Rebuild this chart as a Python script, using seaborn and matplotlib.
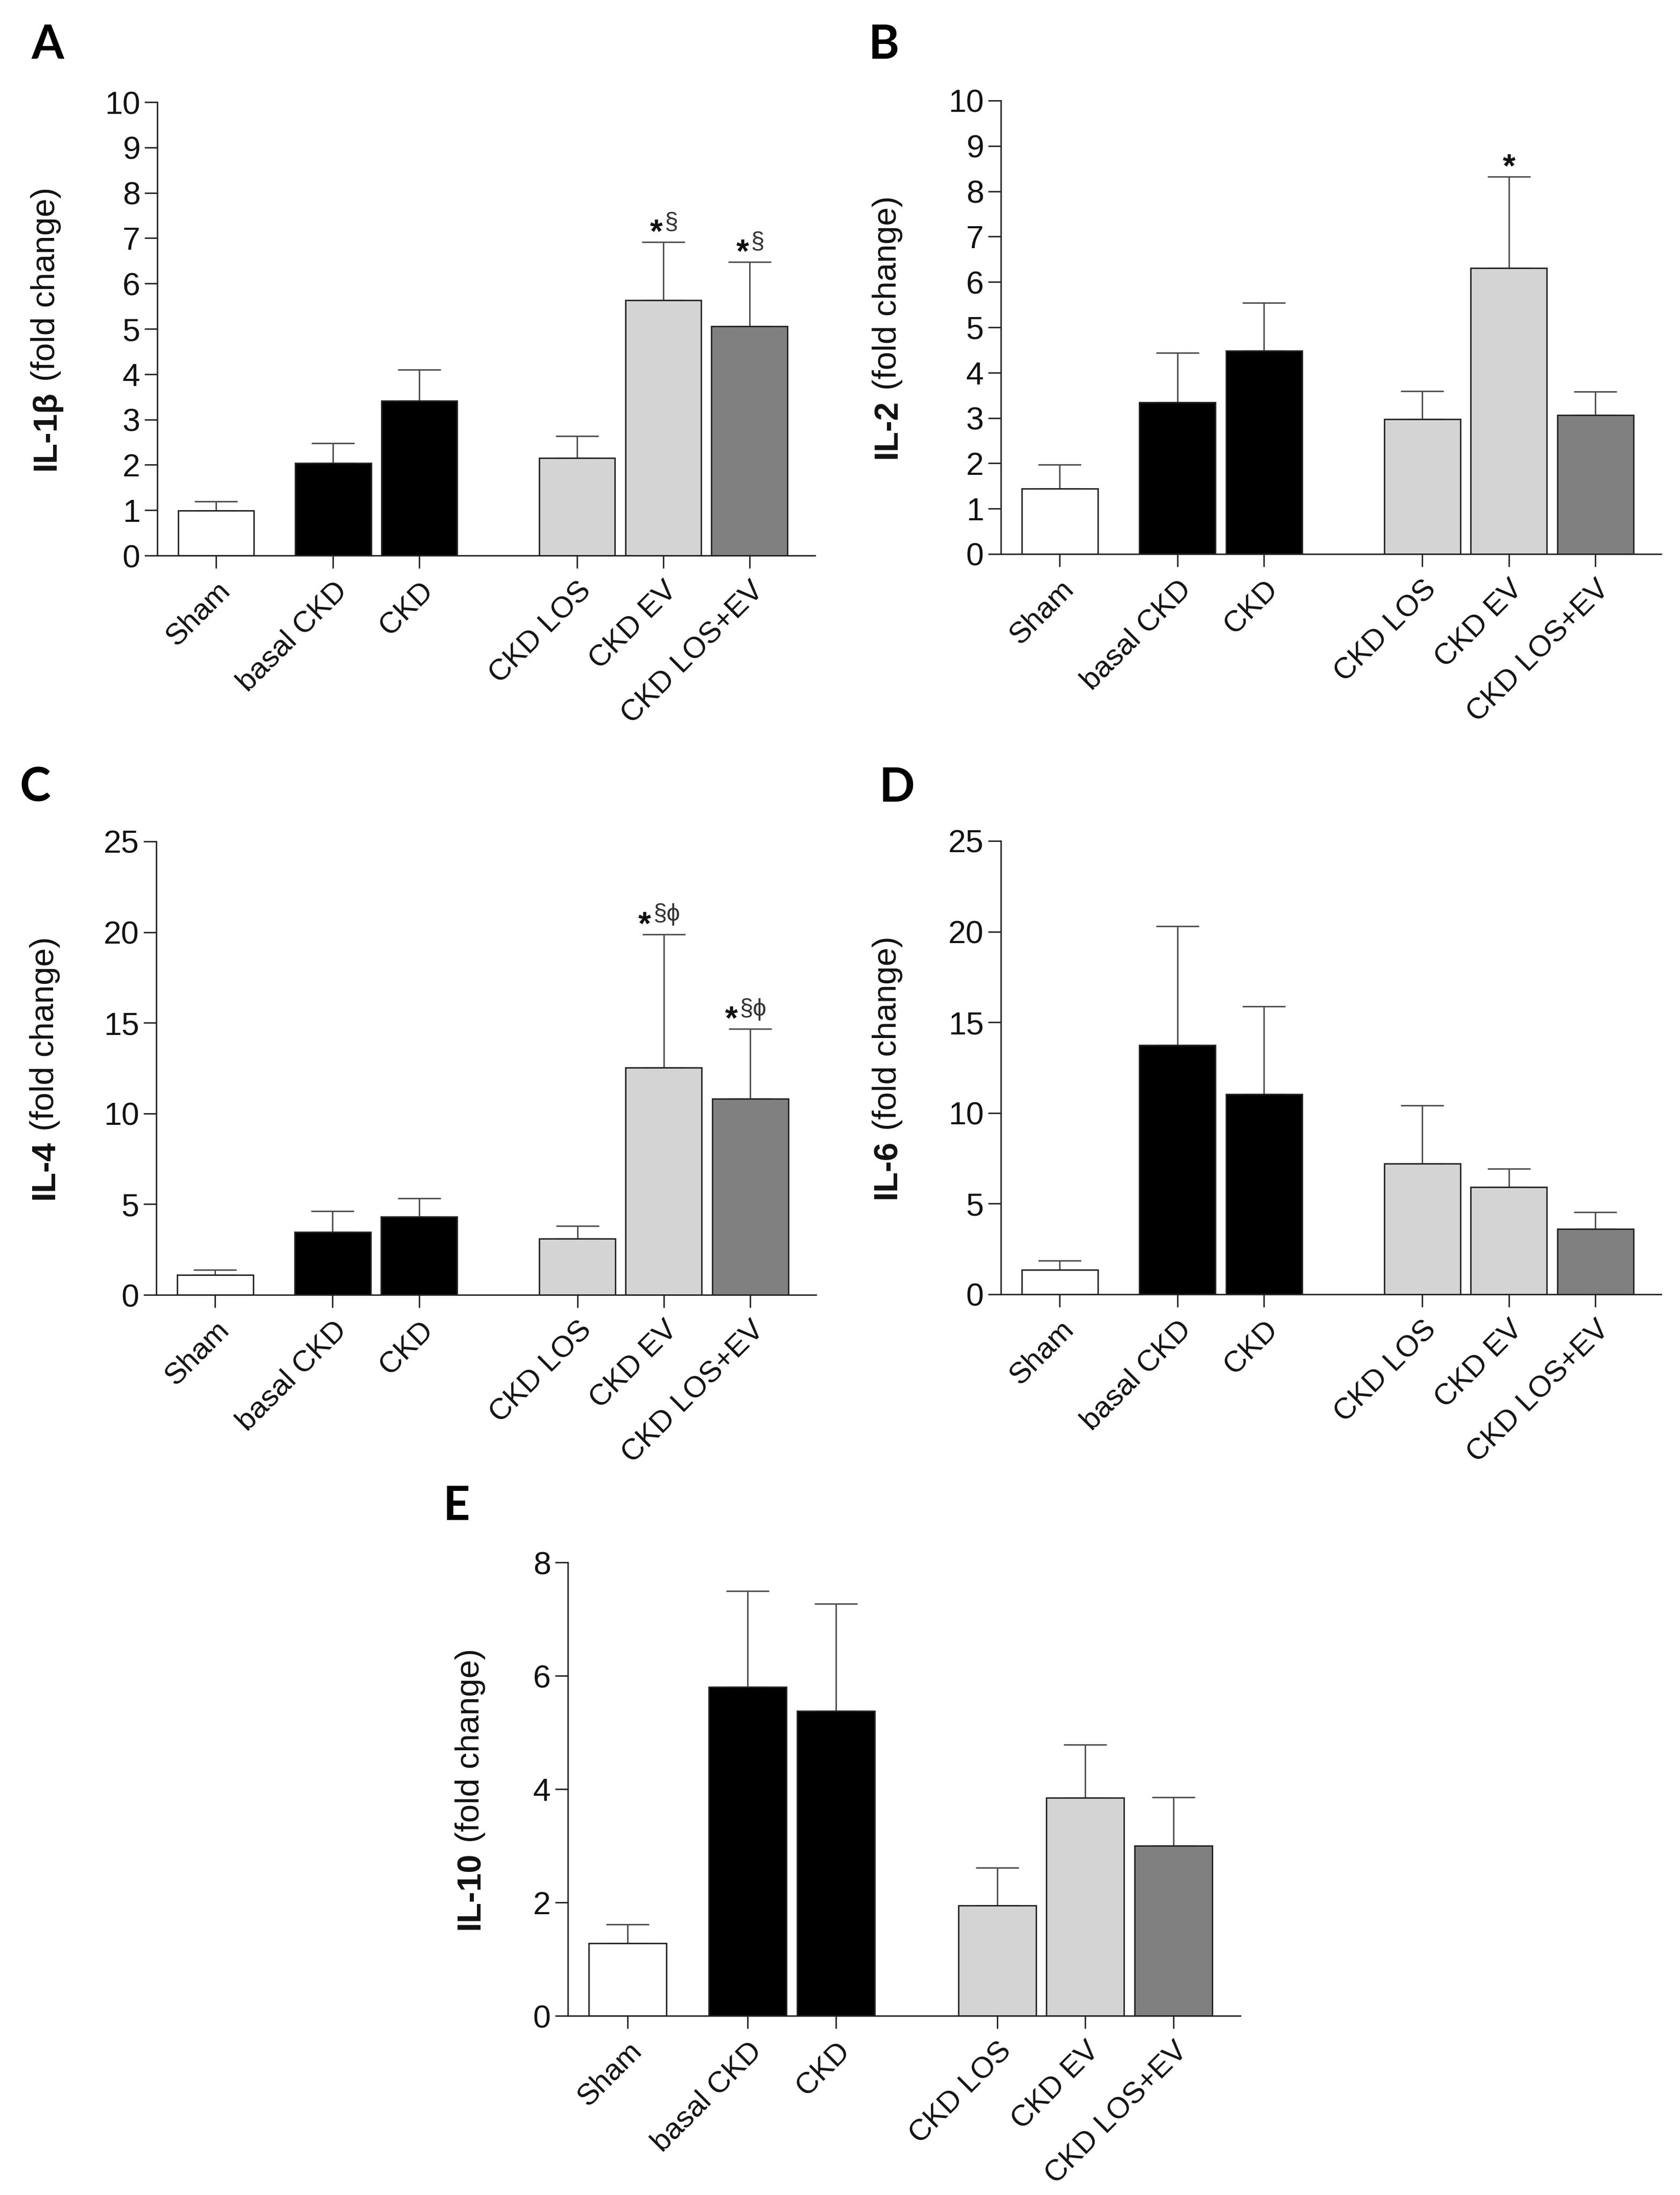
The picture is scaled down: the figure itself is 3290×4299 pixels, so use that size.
import matplotlib
matplotlib.use("Agg")
import matplotlib.pyplot as plt
import seaborn as sns
import numpy as np
import pandas as pd

# ---------------- data ----------------
categories = ["Sham", "basal CKD", "CKD", "CKD LOS", "CKD EV", "CKD LOS+EV"]
bar_colors = ["#ffffff", "#000000", "#000000", "#d4d4d4", "#d4d4d4", "#808080"]

il1b_mean = [0.99, 2.04, 3.41, 2.15, 5.63, 5.06]
il1b_top = [1.19, 2.48, 4.10, 2.64, 6.91, 6.48]

il2_mean = [1.44, 3.34, 4.48, 2.97, 6.31, 3.06]
il2_top = [1.97, 4.44, 5.54, 3.59, 8.32, 3.58]

il4_mean = [1.09, 3.46, 4.31, 3.09, 12.53, 10.81]
il4_top = [1.38, 4.63, 5.33, 3.79, 19.88, 14.66]

il6_mean = [1.36, 13.74, 11.05, 7.22, 5.92, 3.60]
il6_top = [1.85, 20.31, 15.88, 10.43, 6.93, 4.54]

il10_mean = [1.28, 5.80, 5.38, 1.95, 3.85, 3.00]
il10_top = [1.61, 7.50, 7.27, 2.61, 4.78, 3.86]

il1b_marks = ["", "", "", "", "*§", "*§"]
il2_marks = ["", "", "", "", "*", ""]
il4_marks = ["", "", "", "", "*§ϕ", "*§ϕ"]
il6_marks = ["", "", "", "", "", ""]
il10_marks = ["", "", "", "", "", ""]

panel_letters = ["A", "B", "C", "D", "E"]
bold_labels = ["IL-1β", "IL-2", "IL-4", "IL-6", "IL-10"]
unit_label = " (fold change)"
y_maxes = [10, 10, 25, 25, 8]
y_steps = [1, 1, 5, 5, 2]

# ---------------- style ----------------
sns.set_theme(style="ticks")
plt.rcParams["font.family"] = ["Liberation Sans", "DejaVu Sans"]

W, H = 3290, 4299
DPI = 100
fig = plt.figure(figsize=(W / DPI, H / DPI), dpi=DPI)
fig.patch.set_facecolor("white")

# layout (pixels): left, top, right, bottom of each axes
boxes = [
    (308, 200, 1596, 1088),
    (1960, 197, 3253, 1085),
    (306, 1648, 1598, 2536),
    (1960, 1647, 3253, 2535),
    (1112, 3060, 2429, 3948),
]
# panel letter: left edge, baseline (pixels)
letter_pos = [(62, 115), (1701, 115), (38, 1570), (1722, 1570), (868, 2977)]
label_x = [-0.169, -0.172, -0.169, -0.172, -0.145]

# bar x positions (layout): two groups with a gap
x_pos = np.array([0.0, 1.36, 2.36, 4.19, 5.19, 6.19])

means_all = [il1b_mean, il2_mean, il4_mean, il6_mean, il10_mean]
tops_all = [il1b_top, il2_top, il4_top, il6_top, il10_top]
marks_all = [il1b_marks, il2_marks, il4_marks, il6_marks, il10_marks]

line_col = "#222222"
err_col = "#4a4a4a"
LW = 2.0

label_pairs = []
for i in range(5):
    l, t, r, b = boxes[i]
    ax = fig.add_axes([l / W, 1 - b / H, (r - l) / W, (b - t) / H])
    df = pd.DataFrame({"x": x_pos, "y": means_all[i], "group": categories})
    sns.barplot(data=df, x="x", y="y", hue="group", hue_order=categories,
                palette=dict(zip(categories, bar_colors)), native_scale=True,
                width=0.88, edgecolor=line_col, linewidth=LW, legend=False,
                saturation=1, errorbar=None, ax=ax, zorder=2)
    means = np.array(means_all[i])
    tops = np.array(tops_all[i])
    ax.errorbar(x_pos, means, yerr=[np.zeros_like(means), tops - means],
                fmt="none", ecolor=err_col, elinewidth=LW, capsize=30,
                capthick=LW, zorder=1.5)
    for xp, tp, mk in zip(x_pos, tops, marks_all[i]):
        if not mk:
            continue
        if len(mk) == 1:
            ax.annotate(mk, xy=(xp, tp), xytext=(0, -10), textcoords="offset points",
                        ha="center", va="bottom", fontsize=46, fontweight="bold",
                        color="#111111")
            continue
        shift = -17 * (len(mk) - 2)
        ax.annotate(mk[0], xy=(xp, tp), xytext=(shift - 1, -10),
                    textcoords="offset points", ha="right", va="bottom",
                    fontsize=46, fontweight="bold", color="#111111")
        ax.annotate(mk[1:], xy=(xp, tp), xytext=(shift + 2, 12),
                    textcoords="offset points", ha="left", va="bottom",
                    fontsize=34, color="#333333",
                    family=["Liberation Sans", "DejaVu Sans"])

    ax.set_xlim(-0.68, 6.95)
    ax.set_ylim(0, y_maxes[i])
    yt = np.arange(0, y_maxes[i] + 0.001, y_steps[i])
    ax.set_yticks(yt)
    ax.set_yticklabels([f"{v:g}" for v in yt], fontsize=45)
    ax.set_xticks(x_pos)
    ax.set_xticklabels(categories, rotation=45, ha="right", va="top",
                       rotation_mode="anchor", fontsize=42)
    ax.set_xlabel("")
    ax.set_ylabel("")
    for side in ["top", "right"]:
        ax.spines[side].set_visible(False)
    for side in ["left", "bottom"]:
        ax.spines[side].set_linewidth(LW)
        ax.spines[side].set_color(line_col)
    ax.tick_params(axis="both", length=18, width=LW, color=line_col,
                   labelcolor="#111111", direction="out")
    ax.tick_params(axis="y", pad=6)
    ax.tick_params(axis="x", pad=12)
    ax.set_facecolor("white")

    # y label: bold cytokine name + normal unit text
    t1 = ax.text(label_x[i], 0.5, bold_labels[i], transform=ax.transAxes,
                 rotation=90, ha="center", va="bottom", fontsize=47,
                 fontweight="bold", color="#111111")
    t2 = ax.annotate(unit_label, xy=(0.5, 1.0), xycoords=t1, rotation=90,
                     ha="center", va="bottom", fontsize=47, color="#111111")
    label_pairs.append((ax, t1, t2))

    lx, ly = letter_pos[i]
    fig.text(lx / W, 1 - ly / H, panel_letters[i], ha="left", va="baseline",
             fontsize=66, fontweight="bold", family=["Lato", "DejaVu Sans"],
             color="#000000")

# center the two-part y labels on the axes
fig.canvas.draw()
renderer = fig.canvas.get_renderer()
for ax, t1, t2 in label_pairs:
    b1 = t1.get_window_extent(renderer)
    b2 = t2.get_window_extent(renderer)
    total = b2.y1 - b1.y0
    axb = ax.get_window_extent(renderer)
    center = (axb.y0 + axb.y1) / 2
    new_y0 = center - total / 2
    inv = ax.transAxes.inverted()
    _, ya = inv.transform((0, new_y0))
    t1.set_y(ya)

fig.savefig("out.png", dpi=DPI, facecolor="white")
